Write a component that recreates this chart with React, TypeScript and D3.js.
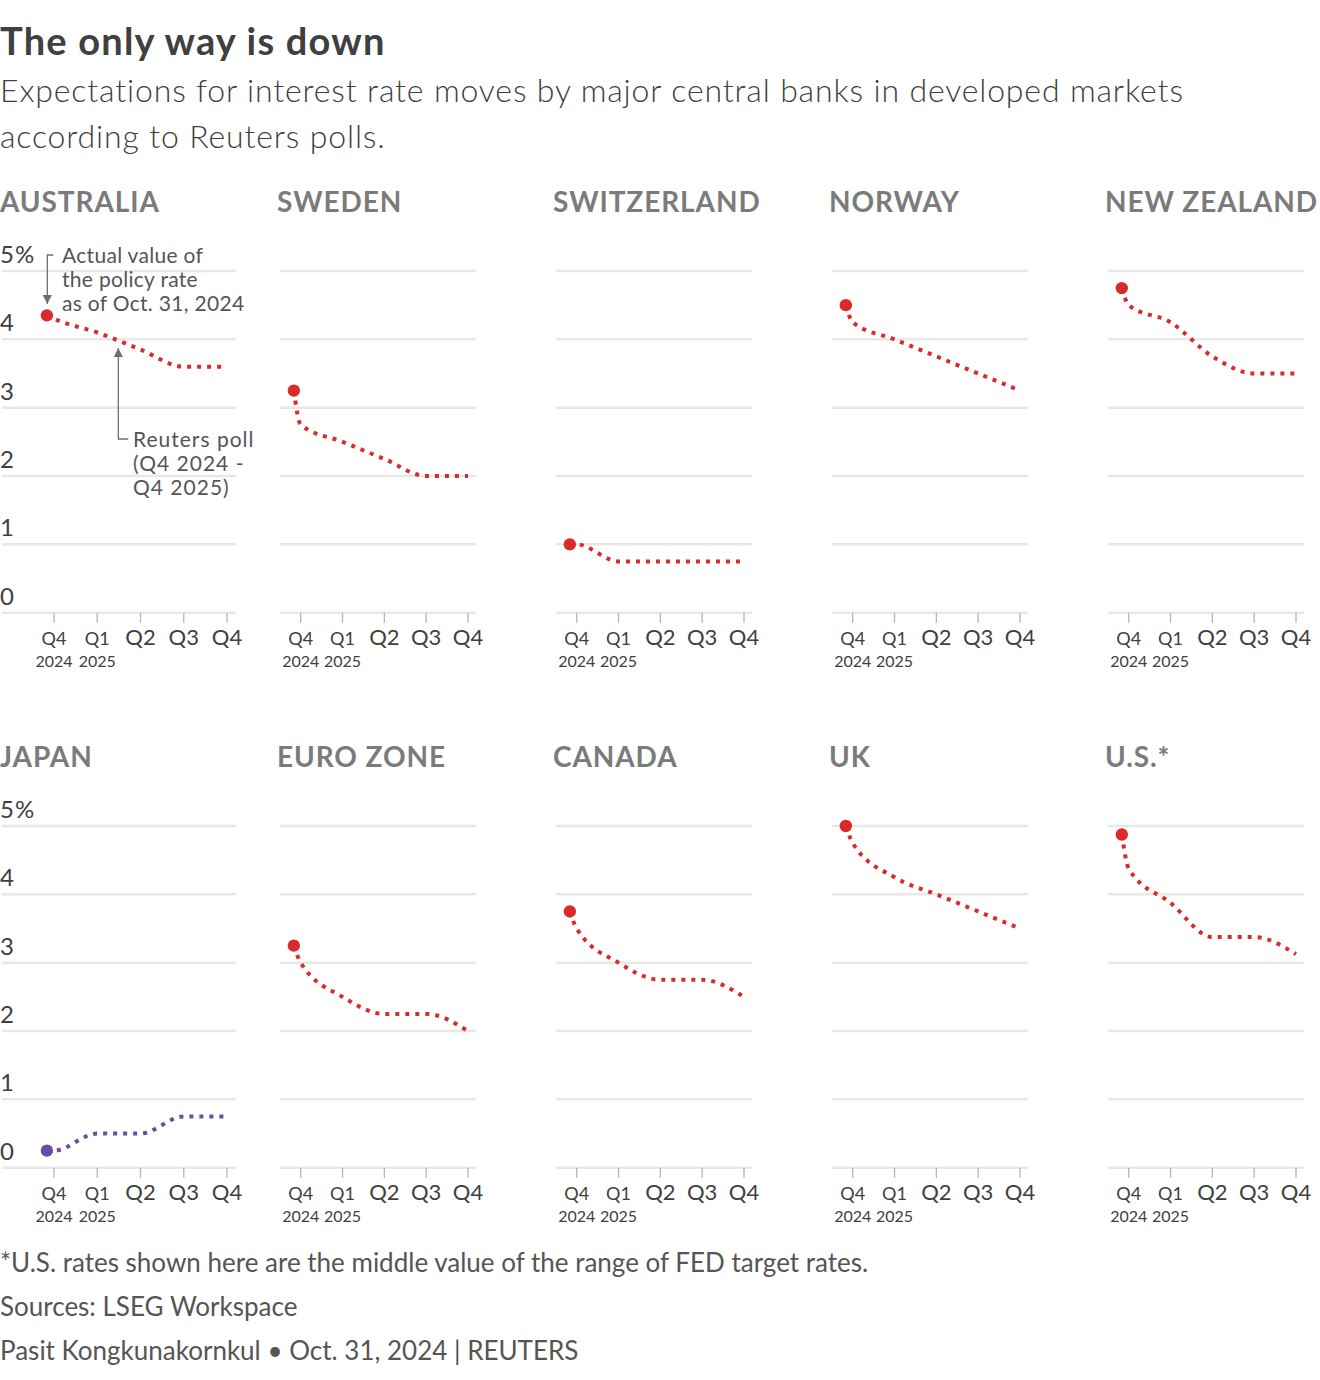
import React from "react";
import * as d3 from "d3";

// ---------- DATA ----------
const countries = ["AUSTRALIA", "SWEDEN", "SWITZERLAND", "NORWAY", "NEW ZEALAND", "JAPAN", "EURO ZONE", "CANADA", "UK", "U.S.*"];
// Actual policy rate as of Oct. 31, 2024
const currentRates = [4.35, 3.25, 1.0, 4.5, 4.75, 0.25, 3.25, 3.75, 5.0, 4.875];
// Reuters poll: Q4 2024, Q1 2025, Q2 2025, Q3 2025, Q4 2025
const pollAustralia = [4.3, 4.1, 3.85, 3.6, 3.6];
const pollSweden = [2.75, 2.5, 2.25, 2.0, 2.0];
const pollSwitzerland = [1.0, 0.75, 0.75, 0.75, 0.75];
const pollNorway = [4.25, 4.0, 3.75, 3.5, 3.25];
const pollNewZealand = [4.5, 4.25, 3.75, 3.5, 3.5];
const pollJapan = [0.25, 0.5, 0.5, 0.75, 0.75];
const pollEuroZone = [3.0, 2.5, 2.25, 2.25, 2.0];
const pollCanada = [3.5, 3.0, 2.75, 2.75, 2.5];
const pollUK = [4.75, 4.25, 4.0, 3.75, 3.5];
const pollUS = [4.375, 3.875, 3.375, 3.375, 3.125];
const polls = [pollAustralia, pollSweden, pollSwitzerland, pollNorway, pollNewZealand, pollJapan, pollEuroZone, pollCanada, pollUK, pollUS];

const quarterLabels = ["Q4", "Q1", "Q2", "Q3", "Q4"];
const yearLabels = ["2024", "2025", "", "", ""];
const yTicks = [0, 1, 2, 3, 4, 5];
const quarterMidDates = ["2024-11-15", "2025-02-15", "2025-05-15", "2025-08-15", "2025-11-15"];
const actualDate = "2024-10-31";

const title = "The only way is down";
const subtitleLines = [
  "Expectations for interest rate moves by major central banks in developed markets",
  "according to Reuters polls.",
];
const footerLines = [
  "*U.S. rates shown here are the middle value of the range of FED target rates.",
  "Sources: LSEG Workspace",
  "Pasit Kongkunakornkul \u2022 Oct. 31, 2024 | REUTERS",
];
const annotationActual = ["Actual value of", "the policy rate", "as of Oct. 31, 2024"];
const annotationPoll = ["Reuters poll", "(Q4 2024 -", "Q4 2025)"];

// ---------- STYLE ----------
const FONT = "Lato, 'Noto Sans', sans-serif";
const RED = "#d92b2b";
const PURPLE = "#6a4ba6";
const GRID = "#e8e8e8";
const DARK = "#404040";
const MID = "#555555";
const TITLE_GRAY = "#7b7b7b";

const W = 1320;
const H = 1380;

function colLayout(col: number) {
  if (col === 0) return { titleX: 0, g0: 2, g1: 236, t0: 54, t1: 227 };
  const base = 280 + 276 * (col - 1);
  return { titleX: base - 3, g0: base, g1: base + 196, t0: base + 20.7, t1: base + 188 };
}

const parse = d3.utcParse("%Y-%m-%d");
const qStart = parse(quarterMidDates[0]) as Date;
const dayMs = 86400000;
const actualQ = -(+qStart - +(parse(actualDate) as Date)) / dayMs / (365.25 / 4);

function Panel({ i }: { i: number }) {
  const row = Math.floor(i / 5);
  const col = i % 5;
  const L = colLayout(col);
  const dy = row * 555;
  const x = d3.scaleLinear().domain([0, 4]).range([L.t0, L.t1]);
  const y = d3.scaleLinear().domain([0, 5]).range([612.7 + dy, 271 + dy]);
  const poll = polls[i];
  const cur = currentRates[i];
  const color = poll[poll.length - 1] > cur ? PURPLE : RED;
  const pts: [number, number][] = [[actualQ, cur], ...poll.map((v, k) => [k, v] as [number, number])];
  const line = d3
    .line<[number, number]>()
    .x((d) => x(d[0]))
    .y((d) => y(d[1]))
    .curve(d3.curveMonotoneX);
  const y0 = y(0);
  return (
    <g>
      <text x={L.titleX} y={212 + dy} fontFamily={FONT} fontWeight={700} fontSize={28} letterSpacing={0.9} fill={TITLE_GRAY}>
        {countries[i]}
      </text>
      {yTicks.map((t) => (
        <line key={t} x1={L.g0} x2={L.g1} y1={y(t)} y2={y(t)} stroke={GRID} strokeWidth={2.5} />
      ))}
      {col === 0 &&
        yTicks.map((t) => (
          <text key={"yl" + t} x={0} y={y(t) - 8} fontFamily={FONT} fontSize={24} letterSpacing={1} fill={DARK}>
            {t === 5 ? "5%" : String(t)}
          </text>
        ))}
      {quarterLabels.map((q, k) => (
        <g key={"q" + k}>
          <line x1={x(k)} x2={x(k)} y1={y0} y2={y0 + 10} stroke="#b5b5b5" strokeWidth={1.3} />
          <text
            x={x(k)}
            y={645 + dy}
            textAnchor="middle"
            fontFamily={FONT}
            fontSize={k < 2 ? 18 : 22}
            fill={DARK}
          >
            {q}
          </text>
          {yearLabels[k] && (
            <text x={x(k)} y={667 + dy} textAnchor="middle" fontFamily={FONT} fontSize={16} fill={DARK}>
              {yearLabels[k]}
            </text>
          )}
        </g>
      ))}
      <path d={line(pts) || ""} fill="none" stroke={color} strokeWidth={4} strokeDasharray="4 6" />
      <circle cx={x(actualQ)} cy={y(cur)} r={6.2} fill={color} />
    </g>
  );
}

function Annotations() {
  const ax = 47.3;
  const px = 118.3;
  return (
    <g>
      <defs>
        <marker id="arr" viewBox="0 0 10 10" refX="10" refY="5" markerWidth="7" markerHeight="7" orient="auto">
          <path d="M0,0 L10,5 L0,10 z" fill="#6f6f6f" />
        </marker>
      </defs>
      <path d={`M${ax + 6},255 H${ax} V304`} fill="none" stroke="#6f6f6f" strokeWidth={1.3} markerEnd="url(#arr)" />
      {annotationActual.map((s, k) => (
        <text key={s} x={62} y={263 + k * 24} fontFamily={FONT} fontSize={21} letterSpacing={0.3} fill={MID}>
          {s}
        </text>
      ))}
      <path d={`M${px + 10},439 H${px} V348`} fill="none" stroke="#6f6f6f" strokeWidth={1.3} markerEnd="url(#arr)" />
      {annotationPoll.map((s, k) => (
        <text key={s} x={133} y={447 + k * 24} fontFamily={FONT} fontSize={21} letterSpacing={1.0} fill={MID}>
          {s}
        </text>
      ))}
    </g>
  );
}

export default function App() {
  return (
    <svg
      width={W}
      height={H}
      viewBox={`0 0 ${W} ${H}`}
      style={{ position: "absolute", left: 0, top: 0, background: "#fff" }}
    >
      <rect width={W} height={H} fill="#fff" />
      <text x={0} y={55} fontFamily={FONT} fontWeight={700} fontSize={38} letterSpacing={1.2} fill={DARK}>
        {title}
      </text>
      {subtitleLines.map((s, k) => (
        <text key={k} x={0} y={102 + k * 46} fontFamily={FONT} fontWeight={300} fontSize={32} letterSpacing={0.85} fill={DARK}>
          {s}
        </text>
      ))}
      {countries.map((c, i) => (
        <Panel key={c} i={i} />
      ))}
      <Annotations />
      {footerLines.map((s, k) => (
        <text key={k} x={0} y={1272 + k * 44} fontFamily={FONT} fontSize={26} fill={MID}>
          {s}
        </text>
      ))}
    </svg>
  );
}
